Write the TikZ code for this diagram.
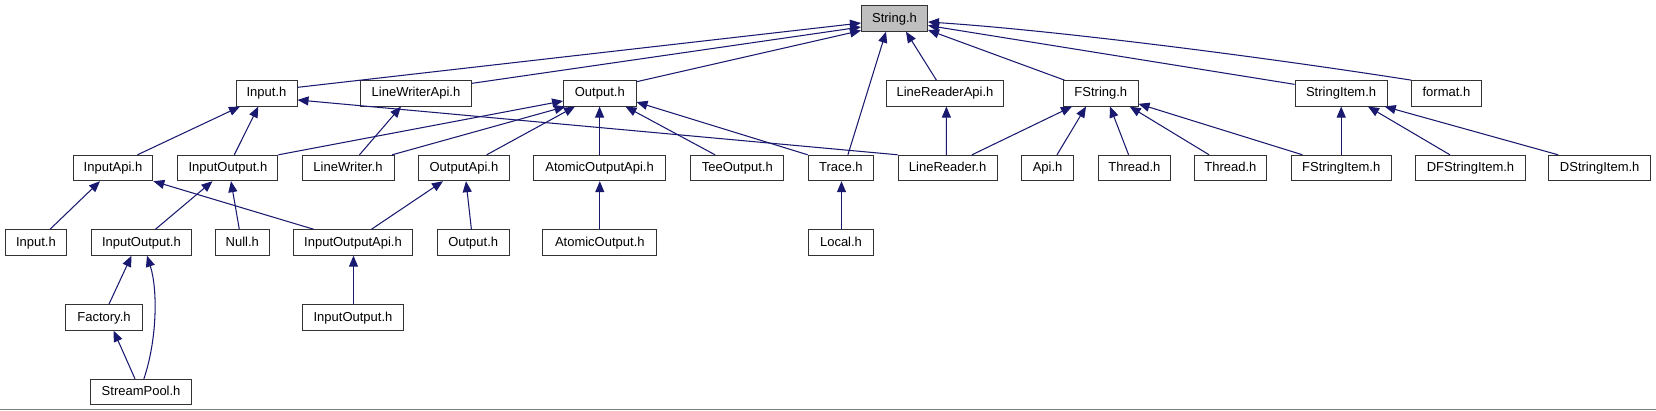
\documentclass[tikz,border=0pt]{standalone}
\usepackage{fontspec}
\setmainfont{Liberation Sans}
\usetikzlibrary{arrows.meta}
\definecolor{edgeblue}{HTML}{191970}
\definecolor{nodeborder}{HTML}{333333}
\definecolor{hilite}{HTML}{BFBFBF}
\definecolor{rulegray}{HTML}{808080}
\begin{document}
\begin{tikzpicture}[x=1pt,y=-1pt,
  box/.style={draw=nodeborder,line width=1pt,fill=white,inner sep=0pt,minimum height=25.4pt,
    text height=9.3pt,text depth=2pt,font=\fontsize{13}{15}\selectfont},
  edge/.style={draw=edgeblue,line width=1.05pt,-{Triangle[length=11pt,width=9pt]}}]
\fill[white] (0,0) rectangle (1656,411);
\useasboundingbox (0,0) rectangle (1656,411);
\draw[rulegray, line width=1.3pt] (0,409.8) -- (1656,409.8);

% level 0
\node[box,minimum width=66pt,fill=hilite] (str) at (894.5,18.5) {String.h};
% level 1
\node[box,minimum width=61pt] (inp1) at (266.5,93.35) {Input.h};
\node[box,minimum width=110.7pt] (lwa) at (416,93.35) {LineWriterApi.h};
\node[box,minimum width=72.4pt] (out1) at (599.8,93.35) {Output.h};
\node[box,minimum width=117.2pt] (lra) at (945,93.35) {LineReaderApi.h};
\node[box,minimum width=74.4pt] (fstr) at (1100.8,93.35) {FString.h};
\node[box,minimum width=92pt] (sitem) at (1341.1,93.35) {StringItem.h};
\node[box,minimum width=69.3pt] (fmt) at (1446.4,93.35) {format.h};
% level 2
\node[box,minimum width=79.7pt] (iapi) at (113,168) {InputApi.h};
\node[box,minimum width=100pt] (io2) at (227.9,168) {InputOutput.h};
\node[box,minimum width=92pt] (lw) at (348,168) {LineWriter.h};
\node[box,minimum width=90.8pt] (oapi) at (463.9,168) {OutputApi.h};
\node[box,minimum width=132pt] (aoapi) at (599.6,168) {AtomicOutputApi.h};
\node[box,minimum width=93.2pt] (tee) at (737.3,168) {TeeOutput.h};
\node[box,minimum width=65.4pt] (trace) at (840.9,168) {Trace.h};
\node[box,minimum width=98.9pt] (lr) at (947.6,168) {LineReader.h};
\node[box,minimum width=52.5pt] (api) at (1047.6,168) {Api.h};
\node[box,minimum width=72.2pt] (th1) at (1134.4,168) {Thread.h};
\node[box,minimum width=72.2pt] (th2) at (1230.4,168) {Thread.h};
\node[box,minimum width=100.3pt] (fsi) at (1341.2,168) {FStringItem.h};
\node[box,minimum width=109.8pt] (dfsi) at (1470.5,168) {DFStringItem.h};
\node[box,minimum width=101.8pt] (dsi) at (1599.7,168) {DStringItem.h};
% level 3
\node[box,minimum width=61.8pt] (inp3) at (35.9,242.5) {Input.h};
\node[box,minimum width=100pt] (io3) at (141.4,242.5) {InputOutput.h};
\node[box,minimum width=54.6pt] (null) at (242.3,242.5) {Null.h};
\node[box,minimum width=118.9pt] (ioapi) at (353,242.5) {InputOutputApi.h};
\node[box,minimum width=72.2pt] (out3) at (473.2,242.5) {Output.h};
\node[box,minimum width=113.9pt] (aout) at (599.8,242.5) {AtomicOutput.h};
\node[box,minimum width=64.3pt] (local) at (841,242.5) {Local.h};
% level 4
\node[box,minimum width=77.9pt] (fact) at (104,317.5) {Factory.h};
\node[box,minimum width=100.3pt] (io4) at (353,317.5) {InputOutput.h};
% level 5
\node[box,minimum width=101.4pt] (sp) at (141.1,392) {StreamPool.h};

% edges into String.h
\draw[edge] ([yshift=6pt]inp1.east) -- ([yshift=-4.5pt]str.west);
\draw[edge] ([yshift=10pt]lwa.east) -- ([yshift=-8.5pt]str.west);
\draw[edge] ([yshift=11.6pt]out1.east) -- ([yshift=-12pt]str.west);
\draw[edge] ([xshift=7pt]trace.north) -- ([xshift=-8.5pt]str.south);
\draw[edge] ([xshift=-8.6pt]lra.north) -- ([xshift=11.5pt]str.south);
\draw[edge] ([xshift=1.4pt]fstr.north west) -- ([yshift=-11.5pt]str.east);
\draw[edge] ([yshift=9pt]sitem.west) -- ([yshift=-7pt]str.east);
\draw[edge] (fmt.north west) .. controls (1250,55) and (1050,30) .. ([yshift=-3.5pt]str.east);
% into level 1
\draw[edge] ([xshift=24.5pt]iapi.north) -- ([xshift=-26.5pt]inp1.south);
\draw[edge] ([xshift=6.4pt]io2.north) -- ([xshift=-8.2pt]inp1.south);
\draw[edge] (lr.north west) -- ([yshift=-6.6pt]inp1.east);
\draw[edge] ([xshift=11.5pt]lw.north) -- ([xshift=-15pt]lwa.south);
\draw[edge] (io2.north east) -- ([yshift=-7.6pt]out1.west);
\draw[edge] ([xshift=-2.3pt]lw.north east) -- ([xshift=2.4pt]out1.south west);
\draw[edge] ([xshift=22.8pt]oapi.north) -- ([xshift=-24.8pt]out1.south);
\draw[edge] (aoapi.north) -- (aoapi.north |- out1.south);
\draw[edge] ([xshift=-22.3pt]tee.north) -- ([xshift=25.7pt]out1.south);
\draw[edge] (trace.north west) -- ([yshift=-8.7pt]out1.east);
\draw[edge] ([xshift=-1.2pt]lr.north) -- ([xshift=1.4pt]lra.south);
\draw[edge] ([xshift=24.4pt]lr.north) -- ([xshift=-28.8pt]fstr.south);
\draw[edge] ([xshift=9.4pt]api.north) -- ([xshift=-14.8pt]fstr.south);
\draw[edge] ([xshift=-5.8pt]th1.north) -- ([xshift=9.2pt]fstr.south);
\draw[edge] ([xshift=-21.3pt]th2.north) -- ([xshift=28.9pt]fstr.south);
\draw[edge] ([xshift=11.9pt]fsi.north west) -- ([yshift=-10.5pt]fstr.east);
\draw[edge] (fsi.north) -- (fsi.north |- sitem.south);
\draw[edge] ([xshift=-20.6pt]dfsi.north) -- ([xshift=26.9pt]sitem.south);
\draw[edge] ([xshift=9.8pt]dsi.north west) -- ([xshift=-2.9pt]sitem.south east);
% into level 2
\draw[edge] ([xshift=14.1pt]inp3.north) -- ([xshift=-13pt]iapi.south);
\draw[edge] ([xshift=20.7pt]ioapi.north west) -- (iapi.south east);
\draw[edge] ([xshift=14pt]io3.north) -- ([xshift=-15.4pt]io2.south);
\draw[edge] ([xshift=-3pt]null.north) -- ([xshift=3.1pt]io2.south);
\draw[edge] ([xshift=18.4pt]ioapi.north) -- ([xshift=-20.9pt]oapi.south);
\draw[edge] ([xshift=-1.8pt]out3.north) -- ([xshift=2.1pt]oapi.south);
\draw[edge] (aout.north) -- (aout.north |- aoapi.south);
\draw[edge] ([xshift=0.5pt]local.north) -- ([xshift=0.5pt]local.north |- trace.south);
% into level 3
\draw[edge] ([xshift=4.9pt]fact.north) -- ([xshift=-9.9pt]io3.south);
\draw[edge] ([xshift=2.8pt]sp.north) .. controls (157,340) and (158,290) .. ([xshift=5.6pt]io3.south);
\draw[edge] ([xshift=0.5pt]io4.north) -- ([xshift=0.5pt]io4.north |- ioapi.south);
% into level 4
\draw[edge] ([xshift=-6.1pt]sp.north) -- ([xshift=9.6pt]fact.south);
\end{tikzpicture}
\end{document}
